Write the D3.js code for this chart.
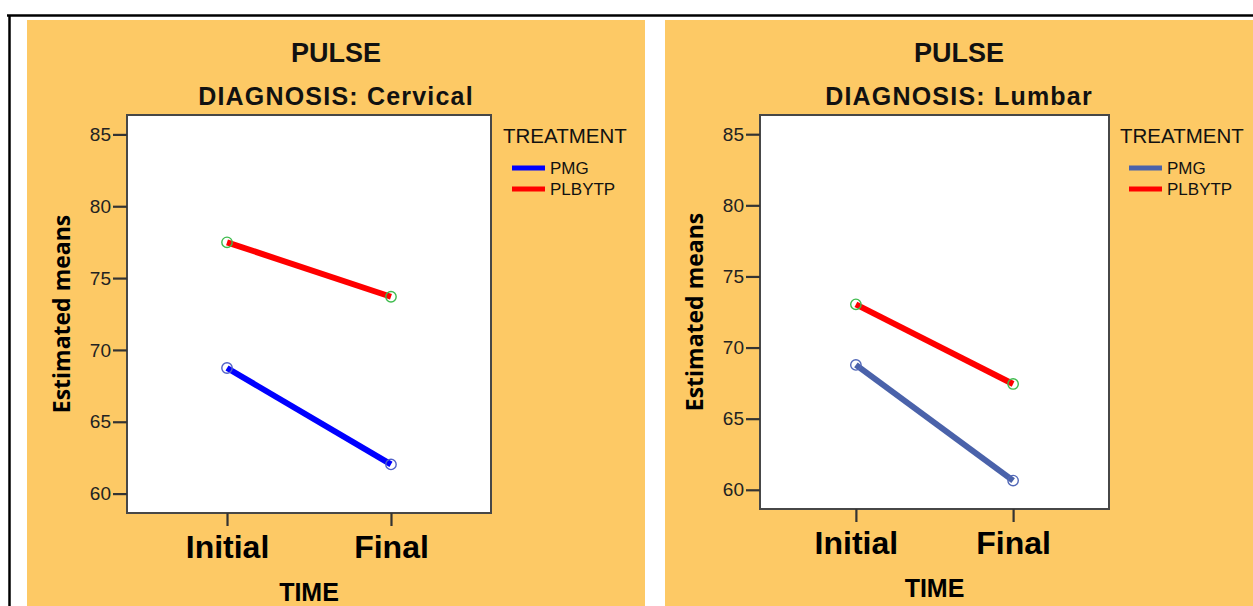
<!DOCTYPE html>
<html lang="en">
<head>
  <meta charset="UTF-8" />
  <title>PULSE by DIAGNOSIS</title>
  <style>
    body { margin: 0; background: #fff; font-family: "Liberation Sans", Arial, sans-serif; }
    svg { display: block; }
  </style>
</head>
<body>
  <svg id="chart"></svg>

  <script src="https://d3js.org/d3.v7.min.js"></script>
  <script>
    // values
    const times = ["Initial", "Final"];
    const treatments = ["PMG", "PLBYTP"];
    const diagnoses = ["Cervical", "Lumbar"];
    const cervicalPMG = [68.74, 62.03];
    const cervicalPLBYTP = [77.49, 73.70];
    const lumbarPMG = [68.78, 60.65];
    const lumbarPLBYTP = [73.04, 67.44];
    const yTicks = [60, 65, 70, 75, 80, 85];
    const yDomain = [58.65, 86.35];

    const W = 1253, H = 606;
    const svg = d3.select("#chart").attr("width", W).attr("height", H);

    // outer frame
    svg.append("line").attr("x1", 7).attr("x2", W).attr("y1", 15.5).attr("y2", 15.5)
      .attr("stroke", "#000").attr("stroke-width", 2.5);
    svg.append("line").attr("x1", 9.5).attr("x2", 9.5).attr("y1", 15).attr("y2", H)
      .attr("stroke", "#000").attr("stroke-width", 2.5);

    const panels = [
      { diag: diagnoses[0], series: [cervicalPMG, cervicalPLBYTP], pmgColor: "#0000ff", pmgDot: "#5060c8",
        bg: [27, 20, 618, 586], box: [127, 115, 491, 513], legendX: 503, timeY: 601 },
      { diag: diagnoses[1], series: [lumbarPMG, lumbarPLBYTP], pmgColor: "#4a62aa", pmgDot: "#5268b8",
        bg: [665, 20, 588, 586], box: [760, 115, 1109, 509], legendX: 1120, timeY: 597 }
    ];

    panels.forEach(p => {
      const g = svg.append("g");
      const [bx, by, bw, bh] = p.bg;
      g.append("rect").attr("x", bx).attr("y", by).attr("width", bw).attr("height", bh).attr("fill", "#fdc965");

      const [x0, y0, x1, y1] = p.box;
      const x = d3.scalePoint().domain(times).range([x0, x1]).padding(0.61);
      const y = d3.scaleLinear().domain(yDomain).range([y1, y0]);
      const colors = [p.pmgColor, "#ff0000"];
      const dotColors = [p.pmgDot, "#3dbb4c"];

      const cx = bx + bw / 2;
      g.append("text").attr("x", cx).attr("y", 62).attr("text-anchor", "middle")
        .attr("font-size", 27).attr("font-weight", "bold").attr("fill", "#111").text("PULSE");
      g.append("text").attr("x", cx).attr("y", 105).attr("text-anchor", "middle")
        .attr("font-size", 25).attr("font-weight", "bold").attr("letter-spacing", 1.2)
        .attr("fill", "#111").text("DIAGNOSIS: " + p.diag);

      g.append("rect").attr("x", x0).attr("y", y0).attr("width", x1 - x0).attr("height", y1 - y0)
        .attr("fill", "#fff").attr("stroke", "#474747").attr("stroke-width", 2);

      const yAxis = g.append("g").attr("transform", `translate(${x0},0)`)
        .call(d3.axisLeft(y).tickValues(yTicks).tickSize(14).tickPadding(2));
      yAxis.select(".domain").remove();
      yAxis.selectAll("line").attr("stroke", "#333").attr("stroke-width", 2.2);
      yAxis.selectAll("text").style("font-size", "19px").style("fill", "#222")
        .style("font-family", "Liberation Sans, Arial, sans-serif");

      const xAxis = g.append("g").attr("transform", `translate(0,${y1})`)
        .call(d3.axisBottom(x).tickSize(13).tickPadding(9));
      xAxis.select(".domain").remove();
      xAxis.selectAll("line").attr("stroke", "#333").attr("stroke-width", 2.2);
      xAxis.selectAll("text").style("font-size", "32px").style("font-weight", "bold").style("fill", "#000")
        .style("font-family", "Liberation Sans, Arial, sans-serif");

      g.append("text").attr("x", (x0 + x1) / 2).attr("y", p.timeY).attr("text-anchor", "middle")
        .attr("font-size", 25).attr("font-weight", "bold").attr("fill", "#000").text("TIME");

      g.append("text")
        .attr("transform", `translate(${x0 - 57},${(y0 + y1) / 2}) rotate(-90)`)
        .attr("text-anchor", "middle").attr("font-family", "Open Sans, sans-serif")
        .attr("font-size", 23).attr("font-weight", 700).attr("fill", "#000").text("Estimated means");

      const line = d3.line().x((d, i) => x(times[i])).y(d => y(d));
      p.series.forEach((vals, k) => {
        g.append("path").datum(vals).attr("d", line).attr("fill", "none")
          .attr("stroke", colors[k]).attr("stroke-width", 6);
        g.selectAll(null).data(vals).join("circle")
          .attr("cx", (d, i) => x(times[i])).attr("cy", d => y(d)).attr("r", 5.2)
          .attr("fill", "none").attr("stroke", dotColors[k]).attr("stroke-width", 1.4);
      });

      // legend
      const lg = g.append("g").attr("transform", `translate(${p.legendX},0)`);
      lg.append("text").attr("x", 0).attr("y", 143).attr("font-size", 20.5).attr("fill", "#111").text("TREATMENT");
      treatments.forEach((t, k) => {
        const ly = 168 + k * 21;
        lg.append("line").attr("x1", 9).attr("x2", 42).attr("y1", ly).attr("y2", ly)
          .attr("stroke", colors[k]).attr("stroke-width", 5);
        lg.append("text").attr("x", 47).attr("y", ly + 6).attr("font-size", 17).attr("fill", "#111").text(t);
      });
    });
  </script>
</body>
</html>
